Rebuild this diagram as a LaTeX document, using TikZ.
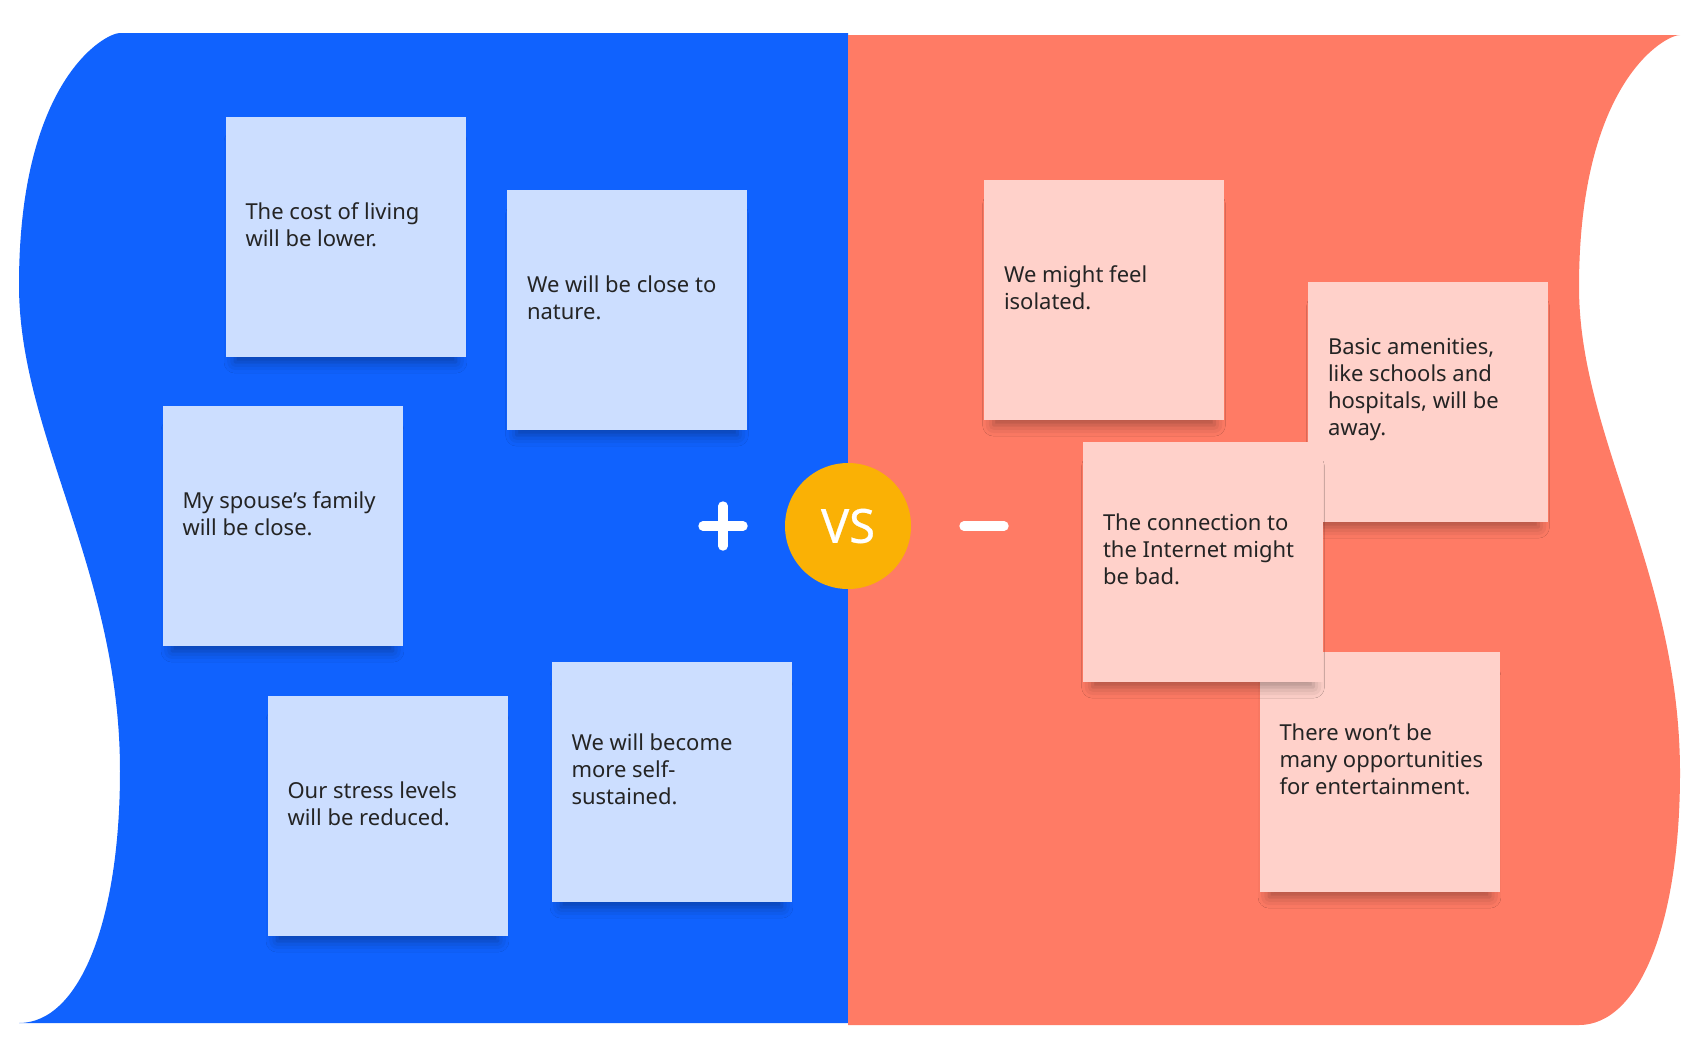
\documentclass[tikz,border=0pt]{standalone}
\usepackage{fontspec}
\setmainfont{Noto Sans}
\newfontfamily\vsfont{Noto Sans}[FakeBold=0.6]
\usetikzlibrary{positioning,shadows.blur}
\definecolor{proc}{RGB}{16,98,254}
\definecolor{conc}{RGB}{255,123,101}
\definecolor{prostick}{RGB}{204,222,255}
\definecolor{constick}{RGB}{255,209,202}
\definecolor{vsc}{RGB}{250,177,5}
\definecolor{inkc}{RGB}{36,36,36}

\begin{document}
\begin{tikzpicture}[x=0.5pt, y=-0.5pt,
  note/.style={minimum width=120pt, minimum height=120pt, inner sep=0pt,
    blur shadow={shadow xshift=0pt, shadow yshift=-8pt, shadow scale=0.92,
      shadow blur radius=6pt, shadow opacity=35}},
  pronote/.style={note, fill=prostick},
  connote/.style={note, fill=constick},
  notetext/.style={align=left, text=inkc, inner sep=0pt, font=\fontsize{11}{13.5}\selectfont},
  sign/.style={draw=white, line width=4.7pt, line cap=round}]
  \fill[white] (0,0) rectangle (1698,1061);
  \useasboundingbox (0,0) rectangle (1698,1061);

  % the two halves
  \fill[proc] (848,33) -- (120,33) .. controls (105,33) and (19,80) .. (19,285)
    .. controls (19,435) and (120,571) .. (120,771)
    .. controls (120,920) and (80,1023) .. (19,1023) -- (848,1023) -- cycle;
  \fill[conc] (848,35) -- (1680,35) .. controls (1665,35) and (1579,82) .. (1579,287)
    .. controls (1579,437) and (1680,573) .. (1680,773)
    .. controls (1680,922) and (1640,1025) .. (1579,1025) -- (848,1025) -- cycle;

  % pros
  \node[pronote] (cost) at (345.5,237) {};
  \node[notetext, right=10pt of cost.west, yshift=6.25pt] (costtxt) {The cost of living\\will be lower.};
  \node[pronote] (nature) at (627,310) {};
  \node[notetext, right=10pt of nature.west, yshift=6.25pt] (naturetxt) {We will be close to\\nature.};
  \node[pronote] (family) at (282.5,526) {};
  \node[notetext, right=10pt of family.west, yshift=6.25pt] (familytxt) {My spouse’s family\\will be close.};
  \node[pronote] (stress) at (387.5,816) {};
  \node[notetext, right=10pt of stress.west, yshift=6.25pt] (stresstxt) {Our stress levels\\will be reduced.};
  \node[pronote] (selfsus) at (671.5,782) {};
  \node[notetext, right=10pt of selfsus.west, yshift=6.25pt] (selfsustxt) {We will become\\more self-\\sustained.};

  % cons
  \node[connote] (isol) at (1104,300) {};
  \node[notetext, right=10pt of isol.west, yshift=6.25pt] (isoltxt) {We might feel\\isolated.};
  \node[connote] (amen) at (1428,402) {};
  \node[notetext, right=10pt of amen.west, yshift=6.25pt] (amentxt) {Basic amenities,\\like schools and\\hospitals, will be\\away.};
  \node[connote] (fun) at (1379.5,772) {};
  \node[notetext, right=10pt of fun.west, yshift=6.25pt] (funtxt) {There won’t be\\many opportunities\\for entertainment.};
  \node[connote] (net) at (1203,562) {};
  \node[notetext, right=10pt of net.west, yshift=6.25pt] (nettxt) {The connection to\\the Internet might\\be bad.};

  % versus
  \node[circle, fill=vsc, minimum size=63pt, inner sep=0pt, text=white,
    font=\vsfont\fontsize{23.5}{28}\selectfont] (vs) at (848,526) {VS};
  \draw[sign] (703,526) -- (743,526) (723,506) -- (723,546);
  \draw[sign] (964,526) -- (1004,526);
\end{tikzpicture}
\end{document}
